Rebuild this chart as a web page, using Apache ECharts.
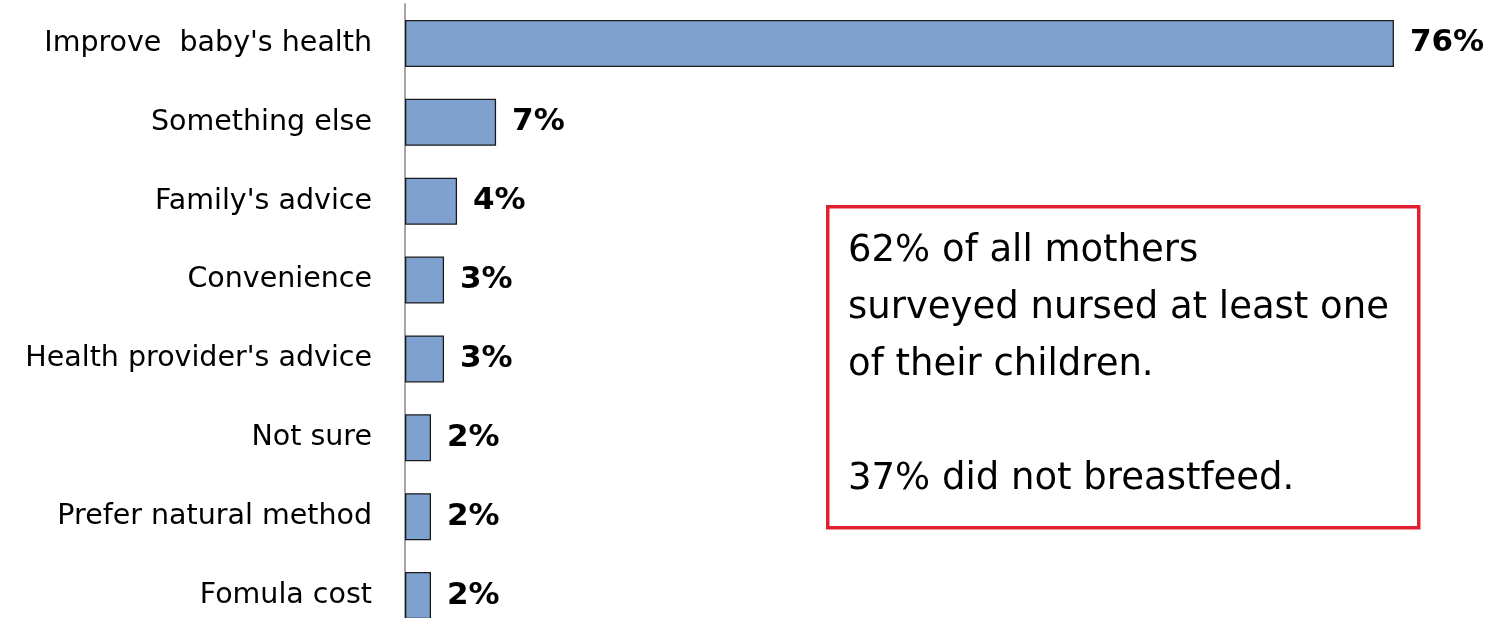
<!DOCTYPE html>
<html>
<head>
<meta charset="utf-8">
<script src="https://cdn.jsdelivr.net/npm/echarts@6/dist/echarts.min.js"></script>
<style>
html,body{margin:0;padding:0;background:#fff;}
#chart{width:1500px;height:618px;}
</style>
</head>
<body>
<div id="chart"></div>
<script>
const categories = ["Improve  baby's health", "Something else", "Family's advice", "Convenience", "Health provider's advice", "Not sure", "Prefer natural method", "Fomula cost"];
const values = [76, 7, 4, 3, 3, 2, 2, 2];
const noteLines = ["62% of all mothers", "surveyed nursed at least one", "of their children.", "", "37% did not breastfeed."];

const chart = echarts.init(document.getElementById('chart'));
const FONT = '"DejaVu Sans", sans-serif';
chart.setOption({
  animation: false,
  grid: { left: 405, top: 4, width: 1041, height: 631, outerBoundsMode: 'none', containLabel: false },
  xAxis: {
    type: 'value', min: 0, max: 80,
    show: false
  },
  yAxis: {
    type: 'category', data: categories, inverse: true,
    axisLine: { show: true, lineStyle: { color: '#a6a6a6', width: 2 } },
    axisTick: { show: false },
    axisLabel: { color: '#000', fontSize: 28.5, fontFamily: FONT, margin: 33 }
  },
  series: [{
    type: 'bar', data: values, barWidth: 47,
    itemStyle: { color: '#7ea1d0', borderColor: '#1a1a1a', borderWidth: 1.3 },
    label: {
      show: true, position: 'right', distance: 16,
      formatter: '{c}%', color: '#000', fontWeight: 'bold', fontSize: 31, fontFamily: FONT
    }
  }],
  graphic: [
    {
      type: 'rect', left: 826, top: 205,
      shape: { width: 591, height: 321 },
      style: { fill: '#fff', stroke: '#e0202e', lineWidth: 3.5 }
    },
    {
      type: 'text', left: 848, top: 223,
      style: {
        text: noteLines.join('\n'),
        font: '37px ' + FONT, fill: '#000', lineHeight: 57
      }
    }
  ]
});
</script>
</body>
</html>
